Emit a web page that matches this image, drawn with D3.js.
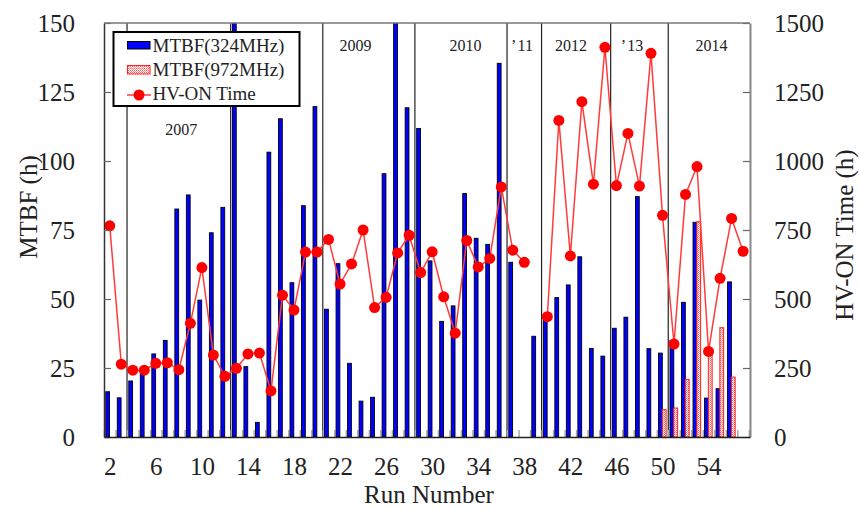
<!DOCTYPE html>
<html>
<head>
<meta charset="utf-8">
<script src="https://cdn.jsdelivr.net/npm/d3@7"></script>
<style>
  body { margin: 0; background: #fff; }
  svg text { font-family: "Liberation Serif", "Times New Roman", serif; fill: #222; }
</style>
</head>
<body>
<main></main>
<script>
// run numbers 2..57
var runs = d3.range(2, 58);
// MTBF at 324MHz (h), null = no bar
var mtbf324 = [16.4, 14.2, 20.3, 23.7, 30.1, 35.0, 82.6, 87.7, 49.6, 74.0,
  83.2, 150, 25.5, 5.3, 103.2, 115.3, 55.9, 83.8, 119.7, 46.3,
  62.8, 26.7, 13.0, 14.4, 95.4, 150, 119.3, 111.8, 63.8, 41.9,
  47.5, 88.2, 72.0, 69.8, 135.4, 63.3, null, 36.5, 42.4, 50.5,
  55.1, 65.3, 32.1, 29.3, 39.4, 43.4, 87.1, 32.0, 30.4, 35.0,
  48.8, 77.8, 14.1, 17.5, 56.2, null];
// MTBF at 972MHz (h), only runs 50..56
var mtbf972 = [null, null, null, null, null, null, null, null, null, null,
  null, null, null, null, null, null, null, null, null, null,
  null, null, null, null, null, null, null, null, null, null,
  null, null, null, null, null, null, null, null, null, null,
  null, null, null, null, null, null, null, null, 9.9, 10.5,
  20.9, 78.0, 31.0, 39.6, 21.7, null];
// HV-ON time (h)
var hvOn = [765, 264, 242, 242, 267, 269, 244, 412, 614, 297,
  220, 249, 301, 304, 167, 514, 460, 670, 670, 716,
  554, 627, 750, 469, 506, 667, 731, 596, 671, 508,
  376, 712, 616, 647, 906, 677, 633, null, 436, 1147,
  656, 1215, 916, 1412, 911, 1100, 909, 1390, 803, 337,
  879, 980, 310, 575, 792, 673];

var xTicks = [2, 6, 10, 14, 18, 22, 26, 30, 34, 38, 42, 46, 50, 54];
var leftTicks = [0, 25, 50, 75, 100, 125, 150];
var rightTicks = [0, 250, 500, 750, 1000, 1250, 1500];
// year boundaries (between runs) and labels
var yearBounds = [3.5, 12.5, 20.5, 28.5, 36.5, 39.5, 45.5, 50.5];
var yearNames = ["2007", "2009", "2010", "\u2019\u200a11", "2012", "\u2019\u200a13", "2014"];
var yearRuns = [8.2, 23.35, 32.9, 37.8, 42.05, 47.35, 54.25];

var W = 860, H = 510;
var L = 104, R = 750, T = 23, B = 437;

var svg = d3.select("main").append("svg")
  .attr("width", W).attr("height", H);

var x = d3.scaleLinear().domain([1.5, 57.6]).range([L, R]);
var yL = d3.scaleLinear().domain([0, 150]).range([B, T]);
var yR = d3.scaleLinear().domain([0, 1500]).range([B, T]);

var defs = svg.append("defs");
var pat = defs.append("pattern").attr("id", "hatch")
  .attr("width", 2).attr("height", 2).attr("patternUnits", "userSpaceOnUse");
pat.append("rect").attr("width", 2).attr("height", 2).attr("fill", "#fff");
pat.append("rect").attr("width", 1).attr("height", 1).attr("fill", "#ff5a5a");
pat.append("rect").attr("x", 1).attr("y", 1).attr("width", 1).attr("height", 1).attr("fill", "#ff8a8a");

defs.append("clipPath").attr("id", "plot")
  .append("rect").attr("x", L).attr("y", T).attr("width", R - L).attr("height", B - T);

// year dividers
svg.append("g").selectAll("line").data(yearBounds).join("line")
  .attr("x1", d => x(d)).attr("x2", d => x(d))
  .attr("y1", T).attr("y2", B)
  .attr("stroke", "#222").attr("stroke-width", 1.2);

// grey minor ticks between runs
svg.append("g").attr("transform", "translate(0," + B + ")")
  .call(d3.axisBottom(x).tickValues(d3.range(1.5, 57.6, 1)).tickSize(-7).tickFormat(""))
  .call(g => g.select(".domain").remove())
  .call(g => g.selectAll("line").attr("stroke", "#aaa").attr("stroke-width", 1.5));

var plot = svg.append("g").attr("clip-path", "url(#plot)");

// blue bars
plot.append("g").selectAll("rect")
  .data(runs.map((r, i) => ({run: r, v: mtbf324[i]})).filter(d => d.v != null))
  .join("rect")
  .attr("x", d => x(d.run) - 4)
  .attr("y", d => yL(d.v))
  .attr("width", 3.8)
  .attr("height", d => B - yL(d.v))
  .attr("fill", "#0000ff").attr("stroke", "#000").attr("stroke-width", 0.9);

// red hatched bars
plot.append("g").selectAll("rect")
  .data(runs.map((r, i) => ({run: r, v: mtbf972[i]})).filter(d => d.v != null))
  .join("rect")
  .attr("x", d => x(d.run) - 0.2)
  .attr("y", d => yL(d.v))
  .attr("width", 3.8)
  .attr("height", d => B - yL(d.v))
  .attr("fill", "url(#hatch)").attr("stroke", "#ff2020").attr("stroke-width", 1);

// HV-ON line
var hvData = runs.map((r, i) => ({run: r, v: hvOn[i]}));
var line = d3.line().defined(d => d.v != null).x(d => x(d.run)).y(d => yR(d.v));
svg.append("path").datum(hvData)
  .attr("d", line).attr("fill", "none")
  .attr("stroke", "#ff3b3b").attr("stroke-width", 1.5);
svg.append("g").selectAll("circle")
  .data(hvData.filter(d => d.v != null)).join("circle")
  .attr("cx", d => x(d.run)).attr("cy", d => yR(d.v)).attr("r", 5.5)
  .attr("fill", "#ff0000");

// year labels
svg.append("g").selectAll("text").data(yearNames).join("text")
  .attr("x", (d, i) => x(yearRuns[i]))
  .attr("y", (d, i) => i === 0 ? 135 : 51)
  .attr("text-anchor", "middle")
  .attr("font-size", 16)
  .text(d => d);

// axes
var axL = svg.append("g").attr("transform", "translate(" + L + ",0)")
  .call(d3.axisLeft(yL).tickValues(leftTicks).tickSizeInner(-7).tickSizeOuter(0).tickPadding(29));
var axR = svg.append("g").attr("transform", "translate(" + R + ",0)")
  .call(d3.axisRight(yR).tickValues(rightTicks).tickFormat(d3.format("d"))
    .tickSizeInner(-7).tickSizeOuter(0).tickPadding(24));
var axB = svg.append("g").attr("transform", "translate(0," + B + ")")
  .call(d3.axisBottom(x).tickValues(xTicks).tickSize(0).tickPadding(20));
[axL, axR, axB].forEach(function(g) {
  g.selectAll("text").attr("font-size", 25)
    .attr("font-family", "'Liberation Serif', 'Times New Roman', serif").attr("fill", "#222");
  g.selectAll(".tick line").attr("stroke", "#666").attr("stroke-width", 1.2);
});
axR.select(".domain").attr("stroke", "#888").attr("stroke-width", 2);
axL.select(".domain").attr("stroke", "#333").attr("stroke-width", 1.5);
axB.select(".domain").attr("stroke", "#222").attr("stroke-width", 1.5);
svg.append("line").attr("x1", L).attr("x2", R).attr("y1", T).attr("y2", T)
  .attr("stroke", "#777").attr("stroke-width", 1.5);

// axis titles
svg.append("text").attr("transform", "translate(37,207) rotate(-90)")
  .attr("text-anchor", "middle").attr("font-size", 25).text("MTBF (h)");
svg.append("text").attr("transform", "translate(853,235) rotate(-90)")
  .attr("text-anchor", "middle").attr("font-size", 25).text("HV-ON Time (h)");
svg.append("text").attr("x", 429).attr("y", 503)
  .attr("text-anchor", "middle").attr("font-size", 25).text("Run Number");

// legend
var lg = svg.append("g");
lg.append("rect").attr("x", 113.5).attr("y", 32).attr("width", 186).attr("height", 74)
  .attr("fill", "#fff").attr("stroke", "#000").attr("stroke-width", 2);
lg.append("rect").attr("x", 127.5).attr("y", 41.5).attr("width", 22.5).attr("height", 7.5)
  .attr("fill", "#0000ff").attr("stroke", "#000").attr("stroke-width", 1);
lg.append("rect").attr("x", 127.5).attr("y", 65.5).attr("width", 22.5).attr("height", 8.5)
  .attr("fill", "url(#hatch)").attr("stroke", "#ff2020").attr("stroke-width", 1);
lg.append("line").attr("x1", 127).attr("x2", 151).attr("y1", 95).attr("y2", 95)
  .attr("stroke", "#ff3b3b").attr("stroke-width", 1.5);
lg.append("circle").attr("cx", 139).attr("cy", 95).attr("r", 5.5).attr("fill", "#ff0000");
var legendLabels = ["MTBF(324MHz)", "MTBF(972MHz)", "HV-ON Time"];
lg.selectAll("text.lab").data(legendLabels).join("text")
  .attr("class", "lab")
  .attr("x", 152.5).attr("y", (d, i) => 51.5 + i * 24)
  .attr("font-size", 19).text(d => d);
</script>
</body>
</html>
